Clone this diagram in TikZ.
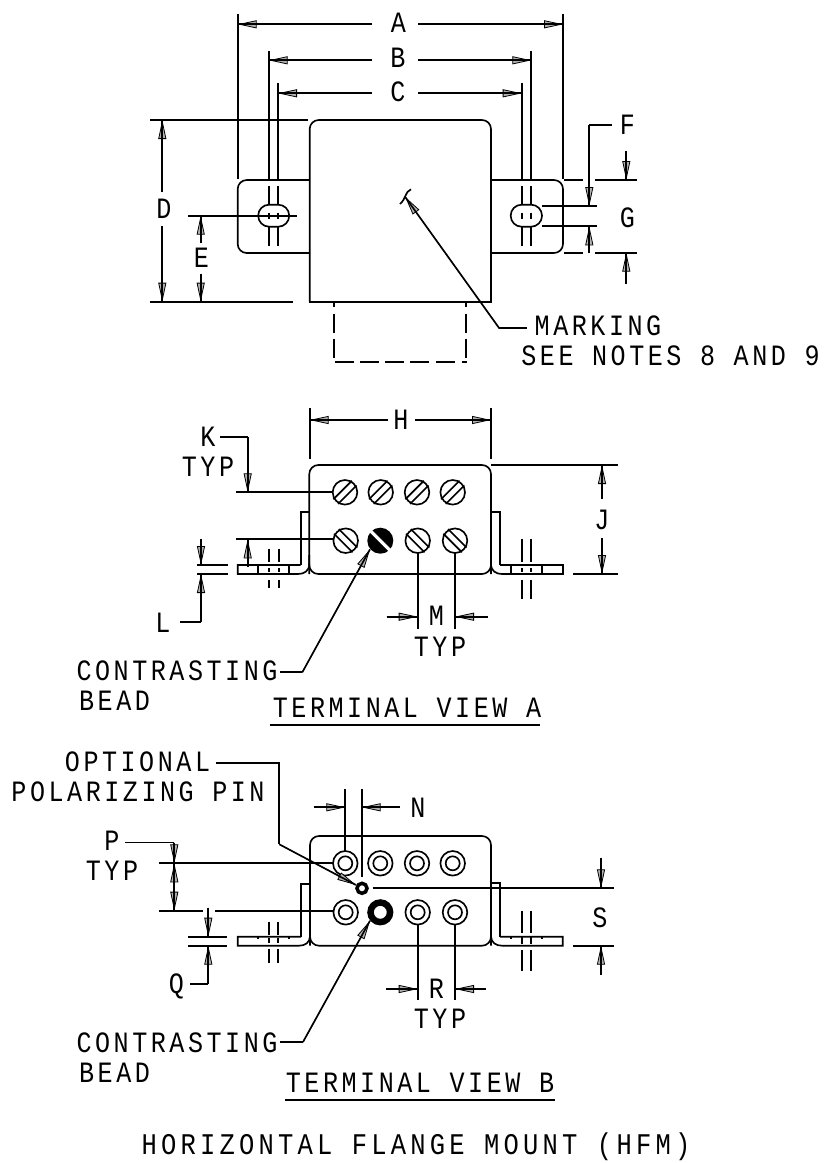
\documentclass[tikz,border=0pt]{standalone}
\usepackage{fontspec}
\setmainfont[LetterSpace=12,FakeStretch=0.85]{Liberation Mono}
\newfontfamily\bigfont[LetterSpace=14,FakeStretch=0.85]{Liberation Mono}
\usetikzlibrary{arrows.meta}
\tikzset{
  ln/.style={line width=1.65pt,line cap=butt},
  lab/.style={font=\fontsize{29.5}{31}\selectfont,inner sep=0pt,anchor=base,text=black},
  labbig/.style={font=\bigfont\fontsize{30}{32}\selectfont,inner sep=0pt,anchor=base,text=black},
  tiph/.style={line width=.8pt,-{Triangle[length=19pt,width=8pt,fill=black!30]},shorten >=0pt},
  rnd/.style={ln,rounded corners=9pt,line join=round}
}
\newcommand{\dimarr}[2]{\draw[tiph] (#1) -- (#2); \draw[ln] (#1) -- (#2);}
\newcommand{\lbl}[3]{\node[lab] (#1) at (#2) {#3};}
\newcommand{\screw}[4]{% x,y,sign,black?
  \begin{scope}[shift={(#1,#2)}]
   \ifnum#4=1
    \fill[black] (0,0) circle (13);
    \fill[white] ({11.2},{#3*9}) -- ({9},{#3*11.2}) -- ({-11.2},{-#3*9}) -- ({-9},{-#3*11.2}) -- cycle;
   \else
    \draw[ln] (0,0) circle (12.3);
    \draw[ln] ({11.6},{#3*6.9}) -- ({-6.9},{-#3*11.6});
    \draw[ln] ({6.9},{#3*11.6}) -- ({-11.6},{-#3*6.9});
   \fi
  \end{scope}}
\newcommand{\ring}[2]{\draw[ln] (#1,#2) circle (12.3); \draw[ln] (#1,#2) circle (7);}
\begin{document}
\begin{tikzpicture}[x=1pt,y=-1pt]
\useasboundingbox (0,0) rectangle (827,1163);
\fill[white] (0,0) rectangle (827,1163);
% ---------- main view
\draw[rnd] (309.7,301.7) -- (309.7,120) -- (491,120) -- (491,301.7);
\draw[ln] (308.9,301.7) -- (491.8,301.7);
\draw[rnd] (309.7,180) -- (237.7,180) -- (237.7,253) -- (309.7,253);
\draw[rnd] (491,180) -- (563,180) -- (563,253) -- (491,253);
\draw[ln,rounded corners=10.9pt] (258.2,204.7) rectangle (289.2,226.7);
\draw[ln,rounded corners=10.9pt] (510.7,204.7) rectangle (542,226.7);
\foreach \x in {334,466}{\draw[ln] (\x,302) -- (\x,307) (\x,313.5) -- (\x,332.5) (\x,338.5) -- (\x,357.5);}
\draw[ln] (335,361.7) -- (353.5,361.7) (360,361.7) -- (379,361.7) (385,361.7) -- (404,361.7) (410,361.7) -- (429,361.7) (436,361.7) -- (455,361.7) (461.5,361.7) -- (467,361.7);
% extension verticals
\draw[ln] (237.7,14) -- (237.7,179) (563,14) -- (563,179);
\foreach \x/\t in {268.7/51,278/83,521.7/83,531.3/51}{
  \draw[ln] (\x,\t) -- (\x,180) (\x,186) -- (\x,204.7) (\x,212.5) -- (\x,218.5) (\x,226.7) -- (\x,245.7);
}
% A B C
\lbl{a}{398.5,32}{A}\lbl{b}{398,67.7}{B}\lbl{c}{398,101.7}{C}
\dimarr{372,24.3}{237.7,24.3}\dimarr{418,24.3}{563,24.3}
\dimarr{372,60.3}{268.7,60.3}\dimarr{418,60.3}{531.3,60.3}
\dimarr{372,93.3}{278,93.3}\dimarr{418,93.3}{521.7,93.3}
% D E
\draw[ln] (150,120) -- (307.7,120) (150,301.7) -- (293,301.7) (188,215.7) -- (297,215.7);
\lbl{d}{164,218}{D}\lbl{e}{201.5,267}{E}
\dimarr{162.3,192}{162.3,120}\dimarr{162.3,226}{162.3,301.7}
\dimarr{200.7,243}{200.7,215.7}\dimarr{200.7,274}{200.7,301.7}
% F G
\draw[ln] (542,206) -- (596.7,206) (542,226.3) -- (596.7,226.3);
\draw[ln] (564,180) -- (582.7,180) (595,180) -- (636.7,180) (564,252.7) -- (582.7,252.7) (595,252.7) -- (636.7,252.7);
\lbl{f}{627.5,134}{F}\lbl{g}{627.5,227}{G}
\draw[ln] (611.7,125.3) -- (589.3,125.3);
\dimarr{589.3,125.3}{589.3,206}\dimarr{589.3,252.7}{589.3,226.3}
\dimarr{626.3,151}{626.3,180}\dimarr{626.3,284}{626.3,252.7}
% marking
\draw[ln] (411,189.3) .. controls (405,191.5) and (406,199) .. (400,204);
\draw[ln] (526.7,328.3) -- (499.3,328.3);
\dimarr{499.3,328.3}{405,196.7}
\lbl{mk}{598,335}{MARKING}\lbl{sn}{670.5,365}{SEE NOTES 8 AND 9}
% ---------- terminal view A
\draw[rnd] (309.3,574) -- (309.3,465) -- (491,465) -- (491,574);
\draw[rnd] (309.3,555) -- (309.3,574) -- (491,574) -- (491,555);
\draw[ln] (300.7,565) -- (300.7,511.7) -- (309.3,511.7) (491,511.7) -- (500,511.7) -- (500,565);
\draw[ln] (300.7,565) -- (237.7,565) -- (237.7,574) -- (298,574) .. controls (304,574) and (309.3,571) .. (309.3,564);
\draw[ln] (500,565) -- (563,565) -- (563,574) -- (502,574) .. controls (496,574) and (491,571) .. (491,564);
\foreach \x in {258.3,289.3,511,542}{\draw[ln] (\x,565) -- (\x,574);}
\foreach \x in {269,278.7}{\draw[ln] (\x,548.5) -- (\x,561.7) (\x,568) -- (\x,572) (\x,580) -- (\x,588);}
\foreach \x in {522,531.3}{\draw[ln] (\x,539) -- (\x,561.7) (\x,568) -- (\x,572) (\x,580) -- (\x,599);}
\foreach \x in {345,380.7,417,452.7}{\screw{\x}{492.3}{-1}{0}}
\screw{345.7}{540.7}{1}{0}\screw{380.3}{540.7}{1}{1}\screw{417.7}{540.7}{1}{0}\screw{455}{540.7}{1}{0}
% H
\draw[ln] (309.7,408) -- (309.7,459) (491,408) -- (491,459);
\lbl{h}{401,429}{H}
\dimarr{388,420}{309.7,420}\dimarr{415,420}{491,420}
% J
\draw[ln] (491,465) -- (618,465) (573,574) -- (618,574);
\lbl{j}{602,529}{J}
\dimarr{602,499}{602,465}\dimarr{602,538}{602,574}
% K
\lbl{k}{208,446}{K}\lbl{ktyp}{208,476}{TYP}
\draw[ln] (220,437) -- (247.7,437);
\dimarr{247.7,437}{247.7,492.3}
\draw[ln] (236,492.3) -- (333,492.3) (236,539.3) -- (333,539.3);
\dimarr{247.7,567}{247.7,539.3}
% L
\lbl{l}{163,632}{L}
\draw[ln] (197,565) -- (227.7,565) (197,574) -- (227.7,574) (180,622) -- (201,622);
\dimarr{201,539}{201,565}\dimarr{201,622}{201,574}
% M
\draw[ln] (417.7,553) -- (417.7,629) (455,553) -- (455,629);
\lbl{m}{436.5,625}{M}\lbl{mtyp}{440,656}{TYP}
\dimarr{386.7,616.7}{417.7,616.7}\dimarr{487.7,616.7}{455,616.7}
% bead A
\lbl{ca}{177,680.7}{CONTRASTING}\lbl{ba}{114.5,710}{BEAD}
\draw[ln] (280,672.3) -- (302.3,672.3);
\dimarr{302.3,672.3}{370,549.3}
\lbl{tva}{407,717}{TERMINAL VIEW A}
\draw[ln] (270,724.7) -- (540,724.7);
% ---------- terminal view B
\draw[rnd] (310,945.7) -- (310,836) -- (491,836) -- (491,945.7);
\draw[rnd] (310,925) -- (310,945.7) -- (491,945.7) -- (491,925);
\draw[ln] (301,936.7) -- (301,884) -- (310,884) (491,883.3) -- (500,883.3) -- (500,936.7);
\draw[ln] (301,936.7) -- (237.7,936.7) -- (237.7,945.7) -- (299,945.7) .. controls (305,945.7) and (310,942.7) .. (310,936);
\draw[ln] (500,936.7) -- (562.7,936.7) -- (562.7,945.7) -- (502,945.7) .. controls (496,945.7) and (491,942.7) .. (491,936);
\foreach \x in {258.3,289.3,511,542}{\draw[ln] (\x,936.7) -- (\x,938.7);}
\foreach \x in {268.7,278.3}{\draw[ln] (\x,921.7) -- (\x,935) (\x,938) -- (\x,943) (\x,948.5) -- (\x,962.7);}
\foreach \x in {522,531.3}{\draw[ln] (\x,911) -- (\x,933) (\x,937) -- (\x,944) (\x,950) -- (\x,970.7);}
\foreach \x in {345.3,380.3,417,452.7}{\ring{\x}{863.3}}
\foreach \x in {345.7,417.7,455}{\ring{\x}{912.3}}
\draw[line width=6.5pt] (380.3,912.3) circle (9.8);
\draw[line width=3.5pt] (362,888.3) circle (5);
% N
\draw[ln] (345.3,789) -- (345.3,851) (361.7,789) -- (361.7,877);
\lbl{n}{418,817}{N}
\dimarr{314,807.3}{345.3,807.3}\dimarr{400,807.3}{361.7,807.3}
% optional
\lbl{op}{137.5,771.7}{OPTIONAL}\lbl{pz}{138,801.7}{POLARIZING PIN}
\draw[ln] (215.7,762.7) -- (279.3,762.7) -- (279.3,844.3);
\dimarr{279.3,844.3}{356,885}
% P
\lbl{p}{112,850}{P}\lbl{ptyp}{112,880}{TYP}
\draw[ln] (125,842.5) -- (174.3,842.5);
\dimarr{174.3,842.5}{174.3,863.3}\dimarr{174.3,888}{174.3,863.3}\dimarr{174.3,885}{174.3,910.7}
\draw[ln] (159.3,863.3) -- (333,863.3) (159.3,910.7) -- (203,910.7) (215,910.7) -- (333,910.7);
% Q
\lbl{q}{176.5,993}{Q}
\draw[ln] (188.3,936.7) -- (227.3,936.7) (188.3,945.7) -- (227.3,945.7) (190,984) -- (208.3,984);
\dimarr{208.3,907.7}{208.3,936.7}\dimarr{208.3,984}{208.3,945.7}
% S
\draw[ln] (372.7,888.3) -- (614.3,888.3) (573,945.7) -- (614.3,945.7);
\lbl{s}{600,927}{S}
\dimarr{601,858}{601,888.3}\dimarr{601,975}{601,945.7}
% R
\draw[ln] (417.7,925) -- (417.7,1000) (455,925) -- (455,1000);
\lbl{r}{436.5,998}{R}\lbl{rtyp}{440,1028}{TYP}
\dimarr{386,989}{417.7,989}\dimarr{485.7,989}{455,989}
% bead B
\lbl{cb}{177,1052}{CONTRASTING}\lbl{bb}{114.5,1082}{BEAD}
\draw[ln] (280,1042) -- (303,1042);
\dimarr{303,1042}{370,920.7}
\lbl{tvb}{420,1092}{TERMINAL VIEW B}
\draw[ln] (285,1100) -- (555,1100);
\node[labbig] (hfm) at (416,1154) {HORIZONTAL FLANGE MOUNT (HFM)};
\end{tikzpicture}
\end{document}
